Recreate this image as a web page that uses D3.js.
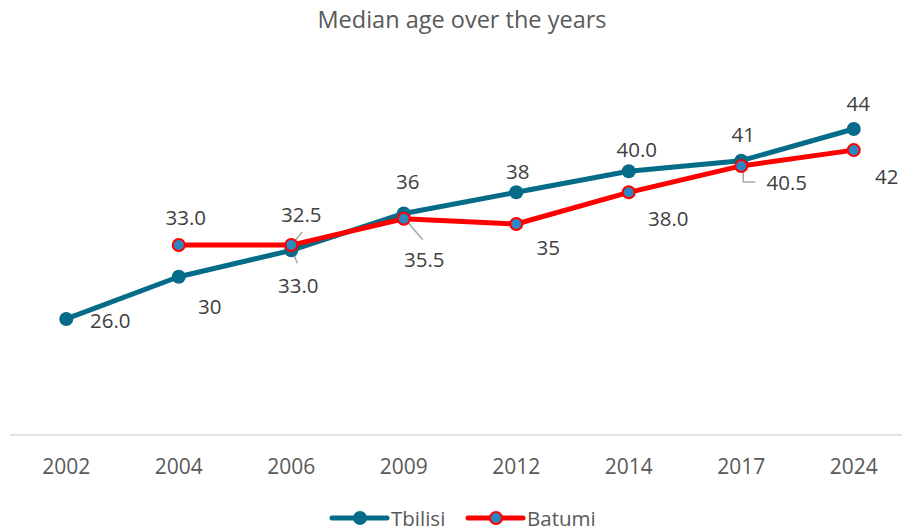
<!DOCTYPE html>
<html>
<head>
<meta charset="utf-8">
<script src="https://cdn.jsdelivr.net/npm/d3@7"></script>
<style>
  body { margin: 0; background: #fff; }
  svg { display: block; font-family: "Open Sans", sans-serif; }
</style>
</head>
<body>
<svg width="902" height="532"></svg>
<script>
// Chart data.
const years = ["2002", "2004", "2006", "2009", "2012", "2014", "2017", "2024"];
const tbilisi = [26, 30, 32.5, 36, 38, 40, 41, 44];
const batumi = [null, 33, 33, 35.5, 35, 38, 40.5, 42];
const tbilisiLabels = ["26.0", "30", "33.0", "36", "38", "40.0", "41", "44"];
const batumiLabels = [null, "33.0", "32.5", "35.5", "35", "38.0", "40.5", "42"];

// Label placement relative to each point (label centre offset).
const tbilisiOffsets = [[44, 2], [31, 30.5], [7, 35], [4, -32], [1.5, -20.5], [8, -21.5], [2, -26], [4.5, -25]];
const batumiOffsets = [null, [7, -27.5], [10, -30.5], [20.5, 41], [32, 24], [39.5, 27], [45.5, 16.7], [33, 27]];

const svg = d3.select("svg");
const textColor = "#404040";
const tbilisiColor = "#046C88";
const batumiColor = "#FF0000";

const x = d3.scalePoint().domain(years).range([10, 910]).padding(0.5);
const y = d3.scaleLinear().domain([15, 50]).range([435, 65.7]);

// Title.
svg.append("text")
    .attr("x", 462).attr("y", 28)
    .attr("text-anchor", "middle")
    .attr("font-size", 23.5)
    .attr("fill", "#595959")
    .text("Median age over the years");

// Baseline axis.
svg.append("line")
    .attr("x1", 10).attr("x2", 902)
    .attr("y1", y(15)).attr("y2", y(15))
    .attr("stroke", "#d9d9d9").attr("stroke-width", 1.5);

// Year labels.
svg.append("g").selectAll("text")
    .data(years)
    .enter().append("text")
    .attr("x", d => x(d))
    .attr("y", 473.5)
    .attr("text-anchor", "middle")
    .attr("font-size", 21)
    .attr("fill", "#595959")
    .text(d => d);

const line = d3.line()
    .defined(d => d.v !== null)
    .x(d => x(d.year))
    .y(d => y(d.v));

const tbData = years.map((yr, i) => ({year: yr, v: tbilisi[i], label: tbilisiLabels[i], off: tbilisiOffsets[i]}));
const baData = years.map((yr, i) => ({year: yr, v: batumi[i], label: batumiLabels[i], off: batumiOffsets[i]}));

// Leader lines (drawn under the series).
const leaders = [
    {d: baData[2], pts: [[11, -13], [2, -2]]},
    {d: tbData[2], pts: [[1, 0], [6, 13]]},
    {d: baData[3], pts: [[1, 0], [19, 21]]},
    {d: baData[6], pts: [[2, 6], [2, 16], [14, 16]]}
];
svg.append("g").selectAll("polyline")
    .data(leaders)
    .enter().append("polyline")
    .attr("points", l => l.pts.map(p => [x(l.d.year) + p[0], y(l.d.v) + p[1]].join(",")).join(" "))
    .attr("fill", "none")
    .attr("stroke", "#a6a6a6")
    .attr("stroke-width", 1.5);

// Tbilisi series.
svg.append("path")
    .datum(tbData)
    .attr("d", line)
    .attr("fill", "none")
    .attr("stroke", tbilisiColor)
    .attr("stroke-width", 5)
    .attr("stroke-linejoin", "round");

svg.append("g").selectAll("circle")
    .data(tbData)
    .enter().append("circle")
    .attr("cx", d => x(d.year))
    .attr("cy", d => y(d.v))
    .attr("r", 7)
    .attr("fill", tbilisiColor);

// Batumi series.
svg.append("path")
    .datum(baData)
    .attr("d", line)
    .attr("fill", "none")
    .attr("stroke", batumiColor)
    .attr("stroke-width", 5)
    .attr("stroke-linejoin", "round");

svg.append("g").selectAll("circle")
    .data(baData.filter(d => d.v !== null))
    .enter().append("circle")
    .attr("cx", d => x(d.year))
    .attr("cy", d => y(d.v))
    .attr("r", 6)
    .attr("fill", "#2E86C1")
    .attr("stroke", batumiColor)
    .attr("stroke-width", 2);

// Data labels.
const allLabels = tbData.concat(baData).filter(d => d.label !== null);
svg.append("g").selectAll("text")
    .data(allLabels)
    .enter().append("text")
    .attr("x", d => x(d.year) + d.off[0])
    .attr("y", d => y(d.v) + d.off[1])
    .attr("dy", "0.35em")
    .attr("text-anchor", "middle")
    .attr("font-size", 20.5)
    .attr("fill", textColor)
    .text(d => d.label);

// Legend.
const legendItems = [
    {name: "Tbilisi", x0: 332, color: tbilisiColor, fill: tbilisiColor, r: 7, sw: 0},
    {name: "Batumi", x0: 468, color: batumiColor, fill: "#2E86C1", r: 6, sw: 2}
];
const li = svg.append("g").selectAll("g").data(legendItems).enter().append("g");
li.append("line")
    .attr("x1", d => d.x0).attr("x2", d => d.x0 + 55)
    .attr("y1", 518).attr("y2", 518)
    .attr("stroke", d => d.color).attr("stroke-width", 5)
    .attr("stroke-linecap", "round");
li.append("circle")
    .attr("cx", d => d.x0 + 28).attr("cy", 518)
    .attr("r", d => d.r)
    .attr("fill", d => d.fill)
    .attr("stroke", d => d.sw ? d.color : "none")
    .attr("stroke-width", d => d.sw);
li.append("text")
    .attr("x", d => d.x0 + 59).attr("y", 519)
    .attr("dy", "0.35em")
    .attr("font-size", 20.5)
    .attr("fill", "#595959")
    .text(d => d.name);
</script>
</body>
</html>
